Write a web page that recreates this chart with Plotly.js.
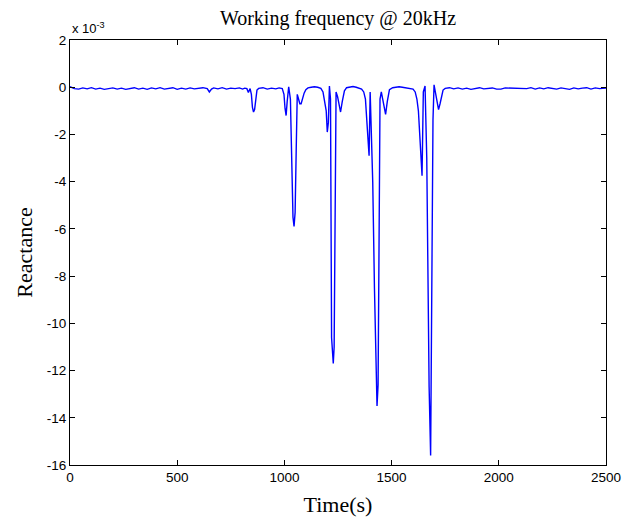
<!DOCTYPE html>
<html>
<head>
<meta charset="utf-8">
<script src="https://cdn.plot.ly/plotly-3.0.1.min.js"></script>
<style>
  html, body { margin: 0; padding: 0; background: #fff; }
  #chart { width: 640px; height: 518px; }
</style>
</head>
<body>
<div id="chart"></div>
<script>
// Reactance trace (in units of 1e-3) versus time in seconds, as [time, reactance] pairs.
const quietLead = [
  [0, 0.02], [20, -0.06], [40, -0.08], [60, -0.03], [80, -0.07], [100, -0.02],
  [120, -0.08], [140, -0.04], [160, -0.09], [180, -0.05], [200, -0.03], [220, -0.08],
  [240, -0.04], [260, -0.09], [280, -0.05], [300, -0.02], [320, -0.08], [340, -0.04],
  [360, -0.09], [380, -0.03], [400, -0.07], [420, -0.02], [440, -0.08], [460, -0.05],
  [480, -0.02], [500, -0.09], [520, -0.04], [540, -0.08], [560, -0.03], [580, -0.07],
  [600, -0.05], [620, -0.02], [640, -0.06], [650, -0.2], [660, -0.08], [670, -0.03],
  [690, -0.07], [710, -0.02], [730, -0.08], [750, -0.04], [770, -0.06], [790, -0.03],
  [805, -0.08], [815, -0.04], [825, -0.06], [832, -0.22], [840, -0.06]
];

const burst1 = [
  [846, -0.3], [851, -0.85], [856, -1.05], [861, -0.95], [866, -0.4], [872, -0.12],
  [880, -0.05], [900, -0.02], [920, -0.08], [940, -0.04], [960, -0.07], [975, -0.03],
  [990, -0.06]
];

const burst2 = [
  [998, -0.3], [1003, -0.9], [1008, -1.2], [1013, -0.6], [1020, 0.02], [1028, -0.5],
  [1034, -2.7], [1040, -5.5], [1045, -5.9], [1050, -5.3], [1055, -2.7], [1060, -0.3],
  [1066, -0.5], [1072, -0.7], [1078, -0.7], [1085, -0.45], [1092, -0.25], [1100, -0.1],
  [1110, -0.03], [1125, 0.0], [1140, 0.02], [1155, 0.0], [1170, -0.05]
];

const burst3 = [
  [1180, -0.2], [1188, -0.6], [1195, -1.0], [1200, -1.9], [1205, -1.5], [1210, 0.05],
  [1215, -0.5], [1220, -10.6], [1228, -11.7], [1232, -11.0], [1235, -5.7], [1241, -0.2],
  [1248, -0.4], [1255, -0.7], [1262, -1.05], [1270, -0.6], [1280, -0.15], [1290, -0.02],
  [1305, 0.02], [1320, 0.03], [1335, 0.0], [1350, -0.04]
];

const burst4 = [
  [1360, -0.08], [1370, -0.2], [1378, -0.5], [1385, -1.5], [1390, -2.4], [1395, -2.9],
  [1400, -0.2], [1412, -4.0], [1420, -8.5], [1428, -12.9], [1432, -13.5], [1437, -12.6],
  [1441, -7.4], [1446, -0.5], [1452, -0.2], [1458, -0.5], [1465, -0.9], [1472, -1.15],
  [1480, -0.6], [1490, -0.1], [1505, -0.02], [1520, 0.0], [1535, 0.02], [1550, 0.0],
  [1565, -0.03], [1580, -0.05]
];

const burst5 = [
  [1600, -0.08], [1610, -0.2], [1618, -0.5], [1625, -1.0], [1632, -2.2], [1638, -3.2],
  [1642, -3.75], [1648, -0.2], [1656, 0.05], [1664, -3.0], [1668, -6.4],
  [1675, -12.7], [1682, -15.6], [1688, -6.4], [1693, -1.4], [1698, 0.1], [1706, -0.3],
  [1712, -0.6], [1719, -0.95], [1726, -0.7], [1733, -0.35], [1740, -0.12], [1750, -0.05]
];

const quietTail = [
  [1770, -0.02], [1790, -0.07], [1810, -0.03], [1830, -0.08], [1850, -0.04], [1870, -0.09],
  [1890, -0.05], [1910, -0.02], [1930, -0.07], [1950, -0.06], [1970, -0.03], [1990, -0.08],
  [2010, -0.08], [2030, -0.03], [2050, -0.04], [2070, -0.05], [2090, -0.05], [2110, -0.05],
  [2130, -0.06], [2150, -0.02], [2170, -0.08], [2190, -0.03], [2210, -0.07], [2230, -0.02],
  [2250, -0.05], [2270, -0.08], [2290, -0.03], [2310, -0.05], [2330, -0.09], [2350, -0.03],
  [2370, -0.07], [2390, -0.04], [2410, -0.02], [2430, -0.08], [2450, -0.03], [2470, -0.06],
  [2490, -0.04], [2500, -0.03]
];

const xTickVals = [0, 500, 1000, 1500, 2000, 2500];
const yTickVals = [-16, -14, -12, -10, -8, -6, -4, -2, 0, 2];

const samples = [].concat(quietLead, burst1, burst2, burst3, burst4, burst5, quietTail);
const timeS = samples.map(p => p[0]);
const reactance = samples.map(p => p[1]);

const serif = '"Liberation Serif", "Times New Roman", serif';
const sans = '"Liberation Sans", Arial, sans-serif';

const axisCommon = {
  showline: true,
  linecolor: '#000',
  linewidth: 1,
  mirror: 'ticks',
  ticks: 'inside',
  ticklen: 5,
  tickwidth: 1,
  tickcolor: '#000',
  showgrid: false,
  zeroline: false,
  tickfont: { family: sans, size: 13.5, color: '#000' },
  automargin: false
};

const data = [{
  x: timeS,
  y: reactance,
  type: 'scatter',
  mode: 'lines',
  line: { color: '#0000ff', width: 1.4 },
  hoverinfo: 'skip'
}];

const layout = {
  width: 640,
  height: 518,
  margin: { l: 70, r: 34, t: 40, b: 53 },
  paper_bgcolor: '#fff',
  plot_bgcolor: '#fff',
  showlegend: false,
  title: {
    text: 'Working frequency @ 20kHz',
    font: { family: serif, size: 20, color: '#000' },
    x: 0.5, xref: 'paper', xanchor: 'center',
    y: 0.965, yref: 'container', yanchor: 'middle'
  },
  xaxis: Object.assign({}, axisCommon, {
    range: [0, 2500],
    tickvals: xTickVals,
    ticktext: xTickVals.map(String),
    title: { text: 'Time(s)', font: { family: serif, size: 22, color: '#000' }, standoff: 12 }
  }),
  yaxis: Object.assign({}, axisCommon, {
    range: [-16, 2],
    tickvals: yTickVals,
    ticktext: yTickVals.map(String),
    title: { text: 'Reactance', font: { family: serif, size: 22, color: '#000' }, standoff: 8 }
  }),
  annotations: [{
    text: 'x 10<sup>-3</sup>',
    xref: 'paper', yref: 'paper',
    x: 0, y: 1, xanchor: 'left', yanchor: 'bottom',
    yshift: 2,
    showarrow: false,
    font: { family: sans, size: 13, color: '#000' }
  }]
};

Plotly.newPlot('chart', data, layout, { staticPlot: true, displayModeBar: false });
</script>
</body>
</html>
